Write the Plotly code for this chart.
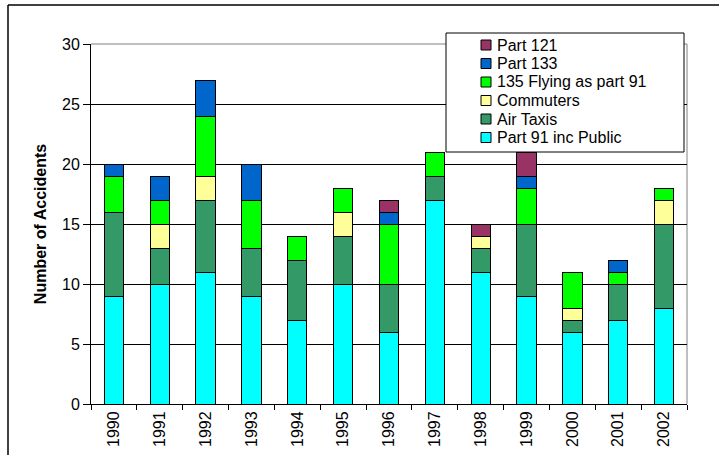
import plotly.graph_objects as go

years = ["1990", "1991", "1992", "1993", "1994", "1995", "1996",
         "1997", "1998", "1999", "2000", "2001", "2002"]

part91_public = [9, 10, 11, 9, 7, 10, 6, 17, 11, 9, 6, 7, 8]
air_taxis = [7, 3, 6, 4, 5, 4, 4, 2, 2, 6, 1, 3, 7]
commuters = [0, 2, 2, 0, 0, 2, 0, 0, 1, 0, 1, 0, 2]
flying_135_as_91 = [3, 2, 5, 4, 2, 2, 5, 2, 0, 3, 3, 1, 1]
part133 = [1, 2, 3, 3, 0, 0, 1, 0, 0, 1, 0, 1, 0]
part121 = [0, 0, 0, 0, 0, 0, 1, 0, 1, 2, 0, 0, 0]

series = [
    ("Part 91 inc Public", part91_public, "#00FFFF"),
    ("Air Taxis", air_taxis, "#339966"),
    ("Commuters", commuters, "#FFFF99"),
    ("135 Flying as part 91", flying_135_as_91, "#00FF00"),
    ("Part 133", part133, "#0066CC"),
    ("Part 121", part121, "#993366"),
]

FONT = "Liberation Sans, Arial, sans-serif"
FS = 16

fig = go.Figure()
for name, vals, col in series:
    fig.add_trace(go.Bar(
        x=years, y=vals, name=name,
        marker=dict(color=col, line=dict(color="#000000", width=1)),
    ))

# pixel -> paper helpers (plot area 91..687 x, 44..404 y)
def px(x):
    return (x - 91) / 596.0

def py(y):
    return (404 - y) / 360.0

shapes = [
    # outer chart frame (top and left edges)
    dict(type="line", xref="paper", yref="paper", x0=px(8), x1=px(730), y0=py(5), y1=py(5),
         line=dict(color="#000000", width=1.5)),
    dict(type="line", xref="paper", yref="paper", x0=px(8), x1=px(8), y0=py(5), y1=py(470),
         line=dict(color="#000000", width=1.5)),
    # plot area border (top and right)
    dict(type="line", xref="paper", yref="paper", x0=0, x1=1, y0=1, y1=1,
         line=dict(color="#808080", width=1), layer="below"),
    dict(type="line", xref="paper", yref="paper", x0=1, x1=1, y0=0, y1=1,
         line=dict(color="#808080", width=1), layer="below"),
    # legend box
    dict(type="rect", xref="paper", yref="paper", x0=px(446), x1=px(684), y0=py(152), y1=py(33),
         fillcolor="#FFFFFF", line=dict(color="#000000", width=1), layer="above"),
]

# hand-made legend (Excel style: small squares, tight rows)
annotations = []
row_y = 45
for name, vals, col in reversed(series):
    shapes.append(dict(type="rect", xref="paper", yref="paper",
                       x0=px(481), x1=px(491), y0=py(row_y + 5), y1=py(row_y - 5),
                       fillcolor=col, line=dict(color="#000000", width=1), layer="above"))
    annotations.append(dict(xref="paper", yref="paper", x=px(495), y=py(row_y),
                            xanchor="left", yanchor="middle", showarrow=False,
                            text=name, font=dict(family=FONT, size=FS, color="#000000")))
    row_y += 18.5

fig.update_layout(
    width=719, height=455,
    barmode="stack",
    bargap=0.58,
    paper_bgcolor="#FFFFFF",
    plot_bgcolor="#FFFFFF",
    margin=dict(l=91, r=32, t=44, b=51, autoexpand=False),
    font=dict(family=FONT, size=FS, color="#000000"),
    shapes=shapes,
    annotations=annotations,
    showlegend=False,
    xaxis=dict(
        type="category",
        showline=True, linecolor="#000000", linewidth=1,
        ticks="outside", tickson="boundaries", ticklen=5, tickcolor="#000000",
        tickangle=-90,
        tickfont=dict(family=FONT, size=FS, color="#000000"),
        showgrid=False,
    ),
    yaxis=dict(
        range=[0, 30], tickvals=[0, 5, 10, 15, 20, 25, 30],
        showline=True, linecolor="#000000", linewidth=1,
        ticks="outside", ticklen=7, tickcolor="#000000",
        showgrid=True, gridcolor="#000000", gridwidth=1,
        zeroline=False,
        tickfont=dict(family=FONT, size=FS, color="#000000"),
        title=dict(text="<b>Number of Accidents</b>",
                   font=dict(family=FONT, size=FS, color="#000000"),
                   standoff=11),
    ),
)

# drop the browser's default 8px body margin so the figure sits at the page corner
fig.write_html("out.html", config={"displayModeBar": False},
               post_script="document.body.style.margin='0';")
